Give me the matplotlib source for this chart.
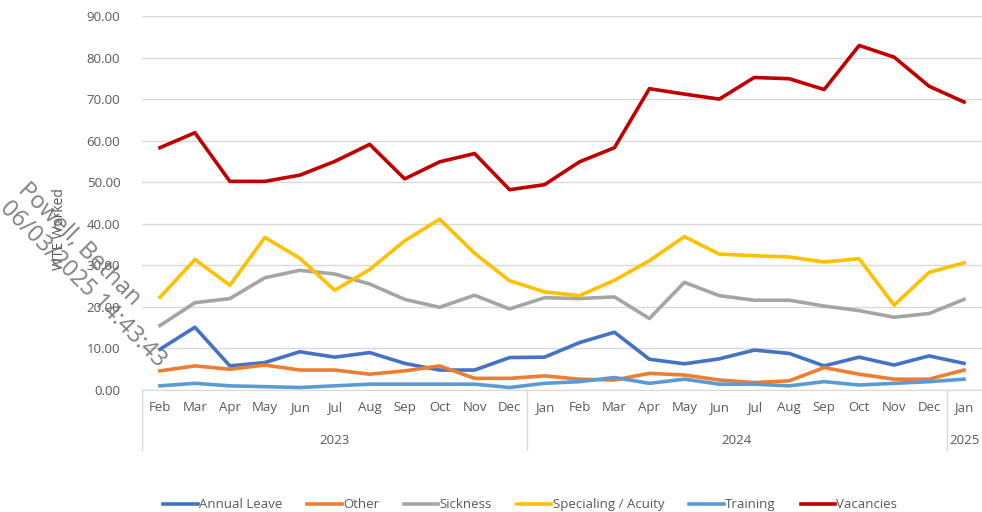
import matplotlib.pyplot as plt
import matplotlib.transforms as mtransforms

months = ["Feb", "Mar", "Apr", "May", "Jun", "Jul", "Aug", "Sep", "Oct", "Nov", "Dec",
          "Jan", "Feb", "Mar", "Apr", "May", "Jun", "Jul", "Aug", "Sep", "Oct", "Nov", "Dec",
          "Jan"]
years = ["2023", "2024", "2025"]
year_spans = [(0, 10), (11, 22), (23, 23)]

annual_leave = [9.8, 15.1, 5.8, 6.6, 9.2, 7.9, 9.0, 6.4, 4.8, 4.8, 7.8,
                7.9, 11.4, 13.9, 7.4, 6.3, 7.5, 9.6, 8.8, 5.8, 7.9, 6.0, 8.2,
                6.4]
other = [4.6, 5.8, 5.0, 6.0, 4.8, 4.8, 3.8, 4.6, 5.8, 2.8, 2.8,
         3.4, 2.6, 2.4, 4.0, 3.6, 2.4, 1.8, 2.2, 5.4, 3.8, 2.6, 2.6,
         4.8]
sickness = [15.5, 21.0, 22.0, 27.0, 28.8, 27.9, 25.5, 21.8, 19.9, 22.8, 19.5,
            22.2, 22.0, 22.4, 17.2, 25.9, 22.7, 21.6, 21.6, 20.2, 19.1, 17.5, 18.4,
            21.8]
specialing = [22.3, 31.4, 25.2, 36.7, 31.7, 24.0, 29.0, 35.9, 41.1, 32.9, 26.3,
              23.6, 22.7, 26.4, 31.1, 36.9, 32.7, 32.3, 32.0, 30.8, 31.6, 20.4, 28.3,
              30.6]
training = [1.0, 1.6, 1.0, 0.8, 0.6, 1.0, 1.4, 1.4, 1.4, 1.4, 0.6,
            1.6, 2.0, 3.0, 1.6, 2.6, 1.4, 1.4, 1.0, 2.0, 1.2, 1.6, 2.0,
            2.6]
vacancies = [58.3, 61.9, 50.2, 50.2, 51.7, 55.0, 59.1, 50.8, 54.9, 56.9, 48.2,
             49.4, 54.9, 58.3, 72.5, 71.2, 70.0, 75.2, 74.9, 72.3, 82.9, 80.1, 73.1,
             69.3]

series = [
    ("Annual Leave", annual_leave, "#4472C4"),
    ("Other", other, "#ED7D31"),
    ("Sickness", sickness, "#A5A5A5"),
    ("Specialing / Acuity", specialing, "#FFC000"),
    ("Training", training, "#5B9BD5"),
    ("Vacancies", vacancies, "#C00000"),
]

plt.rcParams['font.family'] = ['Open Sans', 'DejaVu Sans']
text_grey = "#595959"

fig = plt.figure(figsize=(9.82, 5.12), dpi=100)
ax = fig.add_axes([0.1451, 0.2383, 0.8544, 0.7305])

x = list(range(len(months)))
for name, vals, col in series:
    ax.plot(x, vals, color=col, lw=2.6, label=name, solid_joinstyle="round")

ax.set_xlim(-0.5, len(months) - 0.5)
ax.set_ylim(0, 90)
ax.set_yticks(range(0, 91, 10))
ax.set_yticklabels([f"{v:.2f}" for v in range(0, 91, 10)], fontsize=9.5, color=text_grey)
ax.yaxis.grid(True, color="#D9D9D9", lw=1)
ax.set_axisbelow(True)
ax.tick_params(axis="y", length=0, pad=16)
ax.tick_params(axis="x", length=0, pad=8)
ax.set_xticks(x)
ax.set_xticklabels(months, fontsize=9.5, color=text_grey)
for side in ["top", "right", "left"]:
    ax.spines[side].set_visible(False)
ax.spines["bottom"].set_color("#D9D9D9")

# year groups under the month labels
trans = mtransforms.blended_transform_factory(ax.transData, ax.transAxes)
for label, (a, b) in zip(years, year_spans):
    ax.text((a + b) / 2, -0.135, label, transform=trans,
            ha="center", va="center", fontsize=9.5, color=text_grey, clip_on=False)
for sep in [-0.5, 10.5, 22.5]:
    ax.plot([sep, sep], [0, -0.16], transform=trans, color="#D9D9D9", lw=1, clip_on=False)

ax.set_ylabel("WTE Worked", fontsize=10, color=text_grey, labelpad=2)
ax.yaxis.set_label_coords(-0.09, 0.43)

# user stamp overlay
fig.text(0.022, 0.635, "Powell, Bethan", rotation=-45, rotation_mode="anchor",
         fontsize=17, color="#6b6b6b", ha="left", va="center", alpha=0.85)
fig.text(0.003, 0.6, "06/03/2025 14:43:43", rotation=-45, rotation_mode="anchor",
         fontsize=17, color="#6b6b6b", ha="left", va="center", alpha=0.85)

fig.legend(loc="lower center", bbox_to_anchor=(0.54, -0.022), ncol=6, frameon=False,
           fontsize=9.5, handlelength=2.6, handletextpad=0.1, columnspacing=1.9,
           labelcolor=text_grey)

fig.savefig("out.png", dpi=100)
